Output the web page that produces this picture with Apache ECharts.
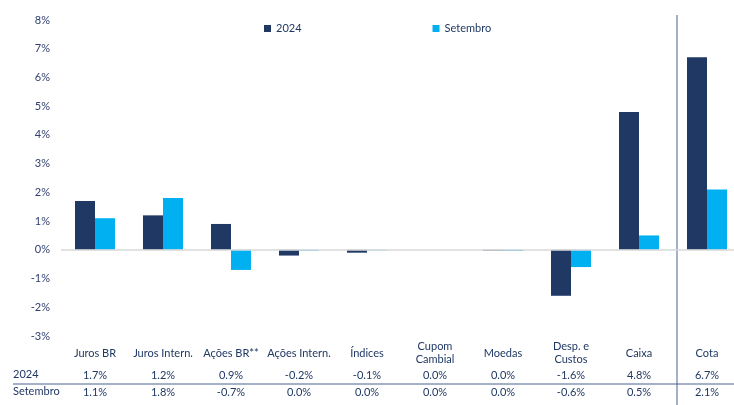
<!DOCTYPE html>
<html>
<head>
<meta charset="utf-8">
<script src="https://cdn.jsdelivr.net/npm/echarts@6/dist/echarts.min.js"></script>
<style>
  html, body { margin: 0; padding: 0; background: #fff; overflow: hidden; }
  #chart { width: 741px; height: 405px; }
</style>
</head>
<body>
<div id="chart"></div>
<script>
// categorias e retornos (% )
var categorias = ['Juros BR', 'Juros Intern.', 'Ações BR**', 'Ações Intern.', 'Índices', 'Cupom\nCambial', 'Moedas', 'Desp. e\nCustos', 'Caixa', 'Cota']
var ano2024 = [1.7, 1.2, 0.9, -0.2, -0.1, 0.0, -0.03, -1.6, 4.8, 6.7]
var setembro = [1.1, 1.8, -0.7, -0.03, -0.02, 0.0, -0.04, -0.6, 0.5, 2.1]
var yTicks = { min: -3, max: 8, interval: 1 }

var corTexto = '#203864'
var fonte = 'Lato'

function fmt(v) {
  return ((Math.round(v * 10) / 10) || 0).toFixed(1) + '%'
}

function eixoLinha(dados, margem) {
  return {
    type: 'category',
    position: 'bottom',
    data: dados,
    axisLine: { show: false, onZero: false },
    axisTick: { show: false },
    axisLabel: {
      interval: 0,
      margin: margem,
      verticalAlign: 'middle',
      lineHeight: 13,
      color: corTexto,
      fontFamily: fonte,
      fontSize: 11
    }
  }
}

// o grafico original continua alem da borda direita, por isso o div tem 741px
var chart = echarts.init(document.getElementById('chart'))
var option = {
  animation: false,
  grid: { left: 61, right: 0, top: 20, height: 316 },
  legend: {
    left: 259,
    top: 18,
    itemWidth: 7,
    itemHeight: 7,
    itemGap: 131,
    icon: 'rect',
    textStyle: { color: corTexto, fontFamily: fonte, fontSize: 11 },
    data: ['2024', 'Setembro']
  },
  xAxis: [
    eixoLinha(categorias, 17),
    eixoLinha(ano2024.map(fmt), 39),
    eixoLinha(setembro.map(fmt), 56)
  ],
  yAxis: {
    type: 'value',
    min: yTicks.min,
    max: yTicks.max,
    interval: yTicks.interval,
    axisLine: { show: false },
    axisTick: { show: false },
    splitLine: { show: false },
    axisLabel: {
      margin: 11,
      color: '#2f3f6e',
      fontFamily: fonte,
      fontSize: 11,
      formatter: function (v) { return v + '%' }
    }
  },
  series: [
    {
      name: '2024',
      type: 'bar',
      data: ano2024,
      barWidth: 20,
      barGap: '0%',
      itemStyle: { color: '#203864' },
      markLine: {
        silent: true,
        symbol: 'none',
        label: { show: false },
        lineStyle: { color: '#d9d9d9', type: 'solid', width: 1.5 },
        data: [{ yAxis: 0 }]
      }
    },
    {
      name: 'Setembro',
      type: 'bar',
      data: setembro,
      barWidth: 20,
      itemStyle: { color: '#00b0f0' }
    }
  ],
  graphic: [
    { type: 'line', shape: { x1: 677, y1: 15, x2: 677, y2: 405 }, style: { stroke: '#4a6391', lineWidth: 1 } },
    { type: 'line', shape: { x1: 13, y1: 384, x2: 741, y2: 384 }, style: { stroke: '#4a6391', lineWidth: 1 } },
    { type: 'text', left: 13, top: 369, style: { text: '2024', fill: corTexto, font: '11px ' + fonte } },
    { type: 'text', left: 13, top: 386, style: { text: 'Setembro', fill: corTexto, font: '11px ' + fonte } }
  ]
}
chart.setOption(option)
</script>
</body>
</html>
